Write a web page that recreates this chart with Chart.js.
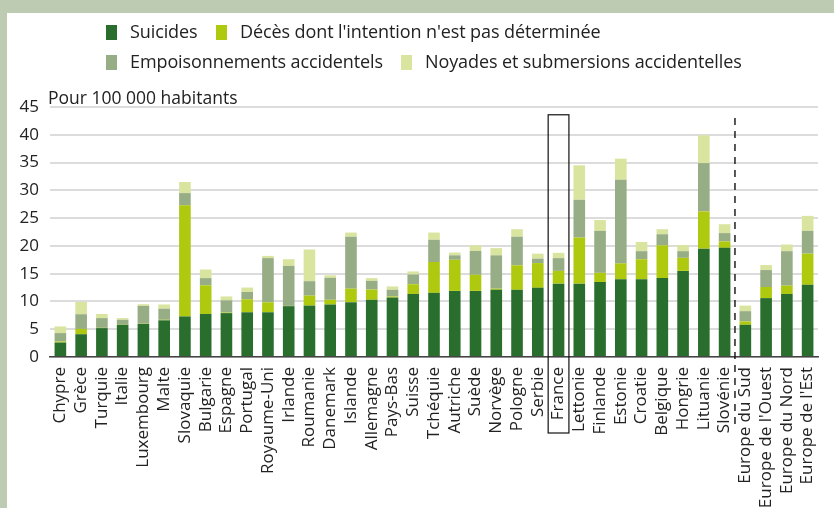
<!DOCTYPE html>
<html>
<head>
<meta charset="utf-8">
<script src="https://cdn.jsdelivr.net/npm/chart.js@4"></script>
<style>
  body { margin: 0; background: #bccbb1; width: 834px; height: 508px; overflow: hidden; font-family: "Open Sans", sans-serif; }
  #panel { position: absolute; left: 7px; top: 13px; width: 827px; height: 495px; background: #fff; }
  #chartBox { position: absolute; left: 0; top: 0; width: 827px; height: 495px; }
  .leg { position: absolute; font-size: 18px; color: #222; white-space: nowrap; line-height: 20px; letter-spacing: -0.1px; }
  .leg span { display: inline-block; width: 11px; height: 15px; vertical-align: -2px; margin-right: 13px; }
  #unit { position: absolute; left: 41px; top: 72px; font-size: 17.5px; color: #222; }
</style>
</head>
<body>
<div id="panel">
  <div id="chartBox"><canvas id="grafico" width="827" height="495"></canvas></div>
  <div class="leg" style="left:99px; top:8px"><span style="background:#2a6e2e"></span>Suicides</div>
  <div class="leg" style="left:209px; top:8px"><span style="background:#aec90e"></span>Décès dont l'intention n'est pas déterminée</div>
  <div class="leg" style="left:99px; top:38px"><span style="background:#97ad85"></span>Empoisonnements accidentels</div>
  <div class="leg" style="left:394px; top:38px"><span style="background:#d9e49f"></span>Noyades et submersions accidentelles</div>
  <div id="unit">Pour 100 000 habitants</div>
</div>
<script>
// Pays et regroupements
const pays = ['Chypre', 'Grèce', 'Turquie', 'Italie', 'Luxembourg', 'Malte', 'Slovaquie', 'Bulgarie',
    'Espagne', 'Portugal', 'Royaume-Uni', 'Irlande', 'Roumanie', 'Danemark', 'Islande', 'Allemagne',
    'Pays-Bas', 'Suisse', 'Tchéquie', 'Autriche', 'Suède', 'Norvège', 'Pologne', 'Serbie', 'France',
    'Lettonie', 'Finlande', 'Estonie', 'Croatie', 'Belgique', 'Hongrie', 'Lituanie', 'Slovénie',
    'Europe du Sud', "Europe de l'Ouest", 'Europe du Nord', "Europe de l'Est"];

// Taux pour 100 000 habitants
const suicides = [2.6, 4.1, 5.2, 5.8, 5.95, 6.6, 7.3, 7.75, 7.9, 8.05, 8.05, 9.15, 9.25, 9.45, 9.85, 10.3,
    10.7, 11.35, 11.55, 11.9, 11.9, 12.1, 12.1, 12.45, 13.2, 13.2, 13.5, 14.0, 14.0, 14.2, 15.5, 19.5, 19.65,
    5.8, 10.6, 11.35, 13.0];
const indetermines = [0.2, 0.95, 0.05, 0.05, 0.05, 0.1, 20.0, 5.15, 0.1, 2.35, 1.8, 0.05, 1.8, 0.85, 2.45, 1.85,
    0.2, 1.75, 5.55, 5.6, 2.9, 0.2, 4.4, 4.45, 2.3, 8.3, 1.65, 2.85, 3.6, 5.9, 2.35, 6.7, 1.15,
    0.6, 2.0, 1.5, 5.6];
const empoisonnements = [1.5, 2.65, 1.75, 0.85, 3.2, 2.0, 2.2, 1.3, 2.2, 1.3, 7.95, 7.2, 2.6, 3.95, 9.35, 1.55,
    1.2, 1.75, 4.0, 0.8, 4.3, 6.0, 5.15, 0.8, 2.3, 6.8, 7.55, 15.05, 1.45, 2.0, 1.2, 8.7, 1.5,
    1.85, 3.05, 6.2, 4.1];
const noyades = [1.2, 2.2, 0.75, 0.3, 0.3, 0.75, 2.0, 1.55, 0.7, 0.8, 0.4, 1.2, 5.7, 0.45, 0.75, 0.5,
    0.6, 0.55, 1.3, 0.5, 1.0, 1.3, 1.35, 0.9, 0.95, 6.2, 1.95, 3.8, 1.65, 0.9, 1.1, 5.0, 1.6,
    1.0, 0.9, 1.2, 2.7];

const yTicks = [0, 5, 10, 15, 20, 25, 30, 35, 40, 45];

// Encadré France + séparateur pays / régions
const reperes = {
    id: 'reperes',
    afterDraw(chart) {
        const c = chart.ctx;
        const x = chart.scales.x;
        const y = chart.scales.y;
        const pas = x.getPixelForValue(1) - x.getPixelForValue(0);
        const iFr = pays.indexOf('France');
        const bas = chart.chartArea.bottom + 76;
        c.save();
        c.strokeStyle = '#111';
        c.lineWidth = 1.2;
        const gx = x.getPixelForValue(iFr) - pas / 2;
        c.strokeRect(gx, y.getPixelForValue(43.6), pas, bas - y.getPixelForValue(43.6));
        const dx = x.getPixelForValue(33) - pas / 2;
        c.setLineDash([7, 6]);
        c.lineWidth = 1.4;
        c.beginPath();
        c.moveTo(dx, y.getPixelForValue(43));
        c.lineTo(dx, bas - 3);
        c.stroke();
        c.restore();
    }
};

const ctx = document.getElementById('grafico').getContext('2d');
const myChart = new Chart(ctx, {
    type: 'bar',
    data: {
        labels: pays,
        datasets: [
            { label: 'Suicides', data: suicides, backgroundColor: '#2a6e2e' },
            { label: "Décès dont l'intention n'est pas déterminée", data: indetermines, backgroundColor: '#aec90e' },
            { label: 'Empoisonnements accidentels', data: empoisonnements, backgroundColor: '#97ad85' },
            { label: 'Noyades et submersions accidentelles', data: noyades, backgroundColor: '#d9e49f' }
        ]
    },
    options: {
        responsive: false,
        animation: false,
        layout: { padding: { top: 94, right: 16, left: 0, bottom: 0 } },
        datasets: { bar: { categoryPercentage: 0.56, barPercentage: 1 } },
        plugins: { legend: { display: false }, tooltip: { enabled: false } },
        scales: {
            x: {
                stacked: true,
                grid: { display: false },
                border: { color: '#444', width: 1.5 },
                ticks: {
                    autoSkip: false, maxRotation: 90, minRotation: 90, padding: 2,
                    color: '#222', font: { family: 'Open Sans', size: 17 }
                },
                afterFit(scale) { scale.height = 151; }
            },
            y: {
                stacked: true,
                min: 0, max: 45,
                afterBuildTicks(scale) { scale.ticks = yTicks.map(v => ({ value: v })); },
                grid: { color: '#dcdcdc', lineWidth: 2, drawTicks: false },
                border: { display: false },
                ticks: { padding: 11, color: '#222', font: { family: 'Open Sans', size: 17 } },
                afterFit(scale) { scale.width = 43; }
            }
        }
    },
    plugins: [reperes]
});
</script>
</body>
</html>
